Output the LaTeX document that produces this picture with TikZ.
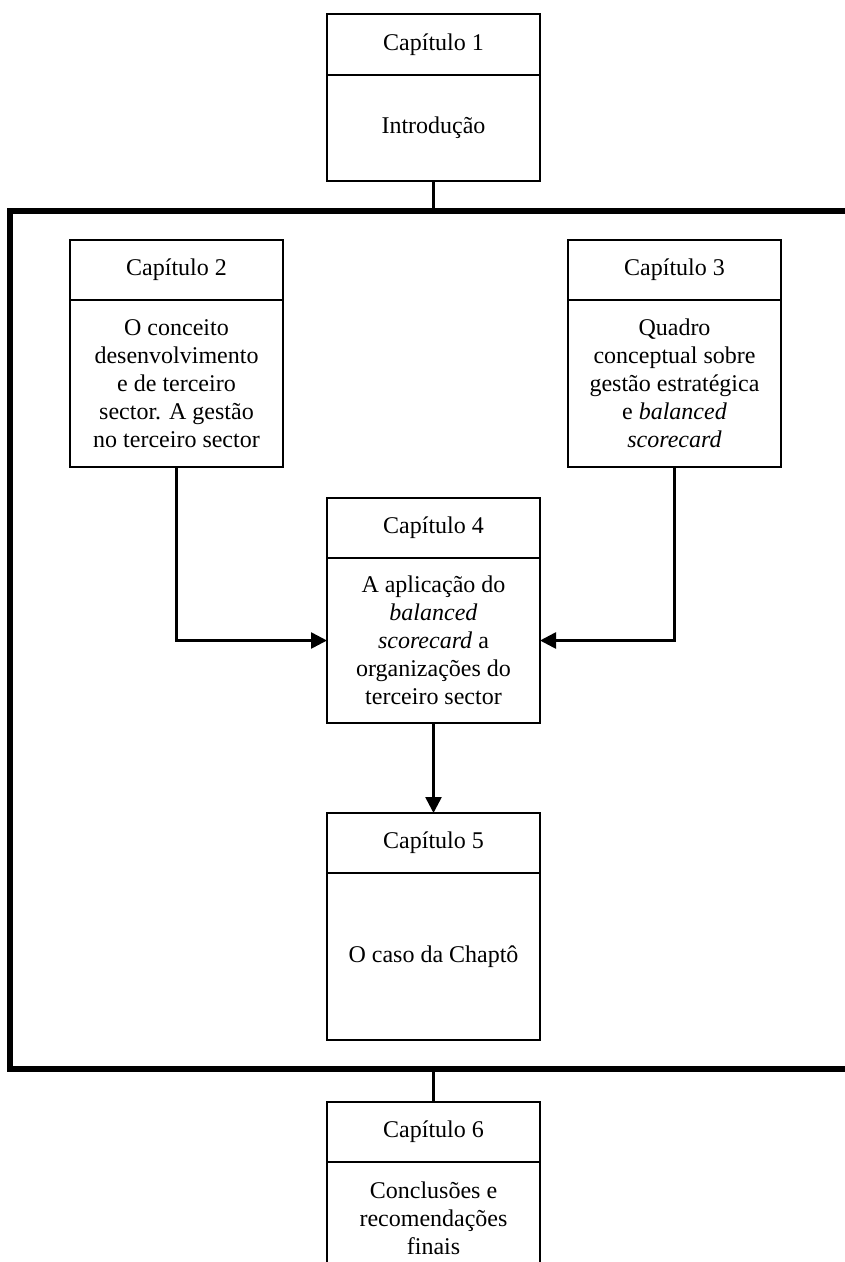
\documentclass[tikz,border=0pt]{standalone}
\usepackage{fontspec}
\setmainfont{Liberation Serif}
\usetikzlibrary{arrows.meta}

\tikzset{
  chapbox/.style={draw, line width=2.4pt, rectangle, inner sep=0pt, outer sep=0pt,
    minimum width=213pt, align=center,
    font=\fontsize{24}{28}\selectfont},
  hdr/.style={chapbox, minimum height=60pt},
  bdy/.style={chapbox},
  link/.style={line width=2.6pt},
  flow/.style={line width=2.6pt, -{Triangle[length=16pt,width=16pt]}},
  frame/.style={line width=6pt, line join=miter}
}

\begin{document}
\begin{tikzpicture}[x=1pt, y=-1pt]
  \useasboundingbox (0,0) rectangle (845,1262);
  \clip (0,0) rectangle (845,1262);

  % Chapter 1
  \node[hdr, minimum height=61pt, anchor=north] (b1h) at (433.5,14) {Capítulo 1};
  \node[bdy, minimum height=106pt, anchor=north] (b1b) at (b1h.south) {Introdução};

  % Outer frame around chapters 2-5 (open on the right)
  \coordinate (fTL) at (10,210.5);
  \coordinate (fBL) at (10,1069);
  \coordinate (fTR) at (870,210.5);
  \coordinate (fBR) at (870,1069);
  \draw[frame] (fTR) -- (fTL) -- (fBL) -- (fBR);

  % Chapter 2
  \node[hdr, anchor=north] (b2h) at (176.5,240) {Capítulo 2};
  \node[bdy, minimum height=167pt, anchor=north] (b2b) at (b2h.south)
    {O conceito\\desenvolvimento\\e de terceiro\\sector. A gestão\\no terceiro sector};

  % Chapter 3
  \node[hdr, anchor=north] (b3h) at (674.5,240) {Capítulo 3};
  \node[bdy, minimum height=167pt, anchor=north] (b3b) at (b3h.south)
    {Quadro\\conceptual sobre\\gestão estratégica\\e \textit{balanced}\\\textit{scorecard}};

  % Chapter 4
  \node[hdr, anchor=north] (b4h) at (433.5,498) {Capítulo 4};
  \node[bdy, minimum height=165pt, anchor=north] (b4b) at (b4h.south)
    {A aplicação do\\\textit{balanced}\\\textit{scorecard} a\\organizações do\\terceiro sector};

  % Chapter 5
  \node[hdr, anchor=north] (b5h) at (433.5,813) {Capítulo 5};
  \node[bdy, minimum height=167pt, anchor=north] (b5b) at (b5h.south) {O caso da Chaptô};

  % Chapter 6
  \node[hdr, anchor=north] (b6h) at (433.5,1102) {Capítulo 6};
  \node[bdy, minimum height=112pt, anchor=north] (b6b) at (b6h.south)
    {Conclusões e\\recomendações\\finais};

  % Connectors
  \coordinate (ftop) at (433.5,210.5);
  \coordinate (fbot) at (433.5,1069);
  \draw[link] (b1b.south) -- (ftop);
  \draw[link] (fbot) -- (b6h.north);
  \draw[flow] (b2b.south) |- (b4b.west);
  \draw[flow] (b3b.south) |- (b4b.east);
  \draw[flow] (b4b.south) -- (b5h.north);
\end{tikzpicture}
\end{document}
